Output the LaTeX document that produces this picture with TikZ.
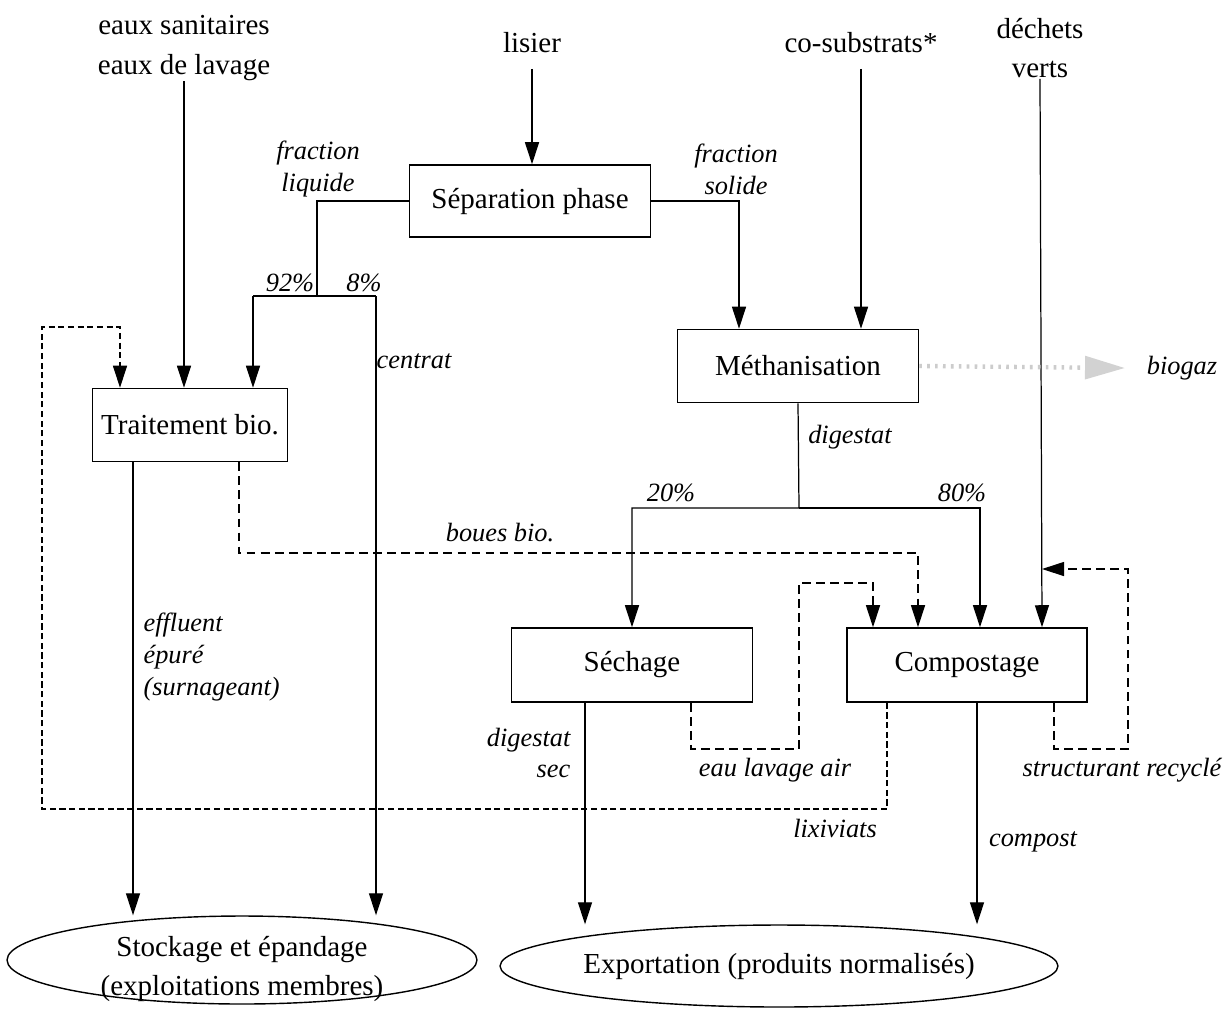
\documentclass[tikz,border=0pt]{standalone}
\usepackage{fontspec}
\setmainfont{Liberation Serif}
\usetikzlibrary{positioning,shapes,arrows.meta}
\tikzset{box/.style={draw,rectangle,line width=0.9pt,inner sep=0pt,font=\fontsize{16.5}{22}\selectfont},
  txt/.style={align=center,inner sep=0pt,font=\fontsize{16.5}{22.7}\selectfont},
  lbl/.style={align=center,inner sep=0pt,font=\fontsize{15}{18.1}\selectfont\itshape},
  ell/.style={draw,ellipse,inner sep=0pt,line width=0.8pt},
  arr/.style={-{Triangle[length=0.44cm,width=0.28cm]}},
  dsh/.style={dash pattern=on 5pt off 3pt},
  dshfine/.style={dash pattern=on 3.5pt off 2pt},
  gasarr/.style={draw=gray!40,line width=2.5pt,dash pattern=on 1.5pt off 3pt,-{Triangle[length=0.8cm,width=0.45cm,color=gray!35]}}}

\begin{document}
\begin{tikzpicture}[x=0.02cm,y=-0.02cm,line width=0.7pt]
\path[use as bounding box,fill=white] (0,0) rectangle (1230,1012);

\node[box,minimum width=4.82cm,minimum height=1.44cm] (sep) at (530,201) {Séparation phase};
\node[box,minimum width=4.82cm,minimum height=1.46cm] (meth) at (798,366) {Méthanisation};
\node[box,minimum width=3.9cm,minimum height=1.46cm] (trait) at (190,425) {Traitement bio.};
\node[box,minimum width=4.82cm,minimum height=1.48cm] (sech) at (632,665) {Séchage};
\node[box,minimum width=4.8cm,minimum height=1.48cm] (comp) at (967,665) {Compostage};
\node[ell,minimum width=9.4cm,minimum height=1.76cm,label={[txt,yshift=-0.18cm]center:{Stockage et épandage\\(exploitations membres)}}] (stock) at (242,960) {};
\node[ell,minimum width=11.16cm,minimum height=1.64cm,label={[txt]center:{Exportation (produits normalisés)}}] (export) at (779,966) {};

\node[txt] (eaux) at (184,48) {eaux sanitaires\\eaux de lavage};
\node[txt] (lisier) at (532,43) {lisier};
\node[txt] (cosub) at (861,43) {co-substrats*};
\node[txt] (dechets) at (1040,48) {déchets\\verts};
\node[lbl] (fliq) at (318,169) {fraction\\liquide};
\node[lbl] (fsol) at (736,169) {fraction\\solide};
\node[lbl] (p92) at (290,283) {92\%};
\node[lbl] (p8) at (364,283) {8\%};
\node[lbl] (centrat) at (414,361) {centrat};
\node[lbl] (digest) at (850,437) {digestat};
\node[lbl] (p20) at (671,493) {20\%};
\node[lbl] (p80) at (962,493) {80\%};
\node[lbl] (boues) at (500,533) {boues bio.};
\node[lbl,align=left,anchor=west] (eff) at (143,657) {effluent\\épuré\\(surnageant)};
\node[lbl,align=right,anchor=east] (dsec) at (571,753) {digestat\\sec};
\node[lbl] (eau) at (775,770) {eau lavage air};
\node[lbl] (struct) at (1122,770) {structurant recyclé};
\node[lbl] (lixi) at (835,828) {lixiviats};
\node[lbl] (compost) at (1033,842) {compost};
\node[lbl] (biogaz) at (1182,368) {biogaz};

\coordinate (lsplit) at (317,296);
\coordinate (l92) at (253,296);
\coordinate (l8) at (376,296);
\coordinate (fs) at (739,206);
\coordinate (dsplit) at (799,508);
\coordinate (d80) at (980,508);
\coordinate (effx) at (133,0);
\coordinate (secx) at (585,0);
\coordinate (cpx) at (977,0);
\coordinate (gas) at (1125,368);
\coordinate (bb1) at (239,553);
\coordinate (bb2) at (918,553);
\coordinate (lx1) at (887,809);
\coordinate (lx2) at (42,809);
\coordinate (lx3) at (42,327);
\coordinate (lx4) at (120,327);
\coordinate (ea1) at (691,749);
\coordinate (ea2) at (799,749);
\coordinate (ea3) at (799,583);
\coordinate (ea4) at (873,583);
\coordinate (st1) at (1054,749);
\coordinate (st2) at (1128,749);
\coordinate (st3) at (1128,569);
\coordinate (st4) at (1042,569);

\draw[arr] (eaux.south) -- (trait.north -| eaux.south);
\draw[arr,shorten <=0.3cm] (lisier.south) -- (sep.north -| lisier.south);
\draw[arr,shorten <=0.3cm] (cosub.south) -- (meth.north -| cosub.south);
\draw[arr] (dechets.south) -- (comp.north -| st4);
\draw (sep.west) -| (lsplit);
\draw (l92) -- (l8);
\draw[arr] (l92) -- (trait.north -| l92);
\draw[arr] (l8) -- (stock.north -| l8);
\draw[arr] (sep.east) -| (meth.north -| fs);
\draw[gasarr] (meth.east) -- (gas);
\draw[arr] (meth.south) -- (dsplit) -| (sech.north);
\draw[arr] (dsplit) -| (comp.north -| d80);
\draw[arr] (trait.south -| effx) -- (stock.north -| effx);
\draw[arr] (sech.south -| secx) -- (export.north -| secx);
\draw[arr] (comp.south -| cpx) -- (export.north -| cpx);
\draw[arr,dsh] (trait.south -| bb1) -- (bb1) -- (bb2) -- (comp.north -| bb2);
\draw[arr,dshfine] (comp.south -| lx1) -- (lx1) -- (lx2) -- (lx3) -- (lx4) -- (trait.north -| lx4);
\draw[arr,dsh] (sech.south -| ea1) -- (ea1) -- (ea2) -- (ea3) -- (ea4) -- (comp.north -| ea4);
\draw[arr,dsh] (comp.south -| st1) -- (st1) -- (st2) -- (st3) -- (st4);
\end{tikzpicture}
\end{document}
